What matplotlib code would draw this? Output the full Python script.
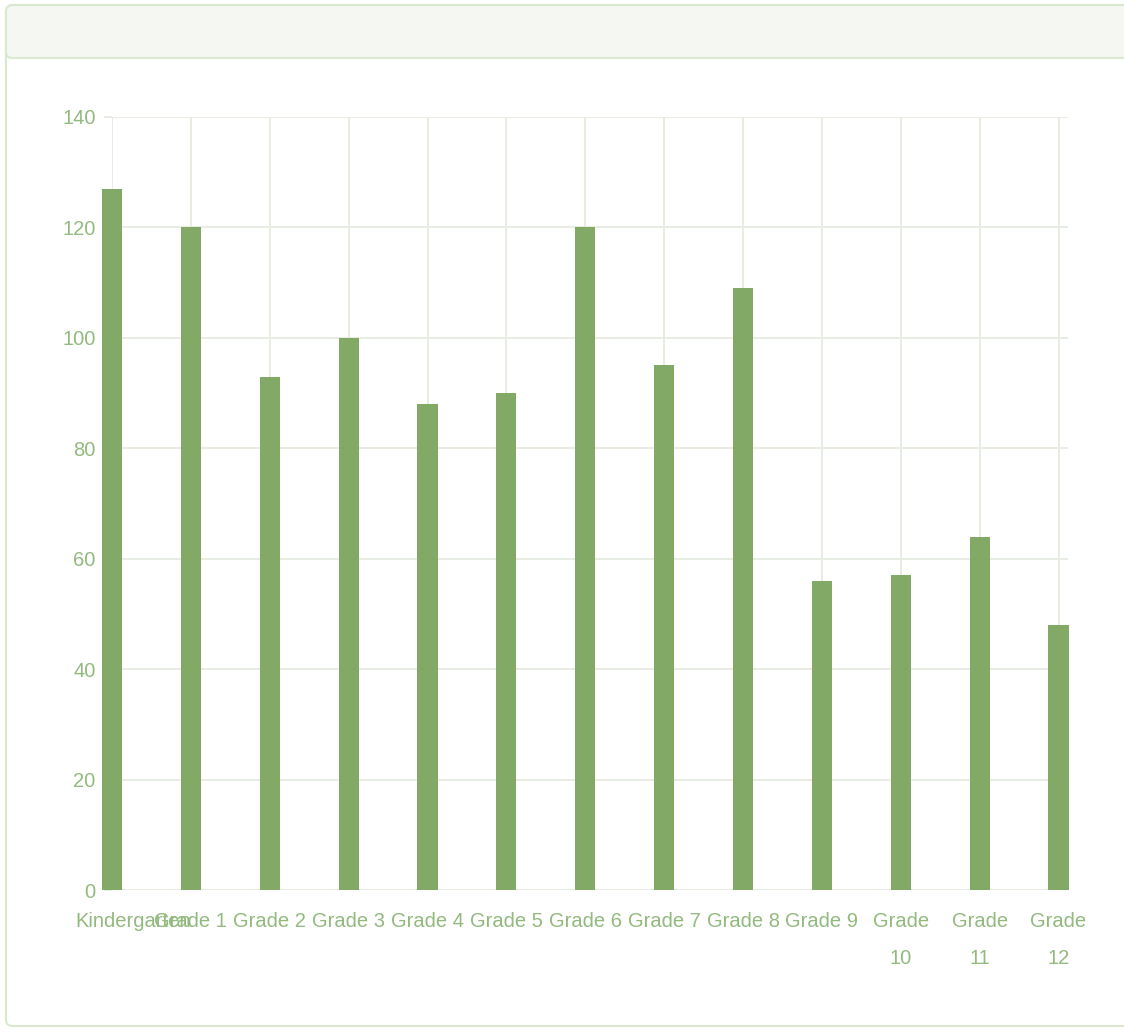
import matplotlib.pyplot as plt
from matplotlib.patches import FancyBboxPatch
from matplotlib.transforms import ScaledTranslation

grades = ['Kindergarten', 'Grade 1', 'Grade 2', 'Grade 3', 'Grade 4', 'Grade 5',
          'Grade 6', 'Grade 7', 'Grade 8', 'Grade 9', 'Grade\n10', 'Grade\n11',
          'Grade\n12']
students = [127, 120, 93, 100, 88, 90, 120, 95, 109, 56, 57, 64, 48]
y_ticks = [0, 20, 40, 60, 80, 100, 120, 140]

bar_color = '#82aa66'
text_color = '#92ba7e'
grid_color = '#e5ece0'
border_color = '#d9e8cf'

W, H = 1124, 1032
fig = plt.figure(figsize=(W / 100, H / 100), dpi=100)
fig.patch.set_facecolor('white')

# panel frame with a light header strip, kept behind the axes
panel = FancyBboxPatch((6 / W, 6 / H), 1.2, (1026 - 6) / H,
                       boxstyle='round,pad=0,rounding_size=0.006',
                       transform=fig.transFigure, facecolor='white',
                       edgecolor=border_color, linewidth=1.5, zorder=-10)
fig.patches.append(panel)
header = FancyBboxPatch((6 / W, (H - 58) / H), 1.2, (58 - 5) / H,
                        boxstyle='round,pad=0,rounding_size=0.006',
                        transform=fig.transFigure, facecolor='#f5f7f2',
                        edgecolor=border_color, linewidth=1.5, zorder=-9)
fig.patches.append(header)

ax = fig.add_axes([112 / W, (H - 890) / H, (1068 - 112) / W, (890 - 117) / H])
ax.patch.set_alpha(0)
x = list(range(len(grades)))
ax.bar(x, students, width=0.255, color=bar_color, clip_on=False, zorder=3)

ax.set_xlim(0, 12.12)
ax.set_ylim(0, 140)
for s in ax.spines.values():
    s.set_visible(False)

ax.set_yticks(y_ticks)
ax.set_xticks(x)
ax.set_xticklabels(grades)
ax.grid(True, color=grid_color, linewidth=1.3, zorder=0)
ax.set_axisbelow(True)
ax.tick_params(axis='y', length=5.8, width=1.3, color=grid_color,
               labelcolor=text_color, labelsize=14.5, pad=6)
ax.tick_params(axis='x', length=0, labelcolor=text_color, labelsize=14.5, pad=16)
for lbl in ax.get_xticklabels():
    lbl.set_fontfamily('Liberation Sans')
    lbl.set_linespacing(2.2)
    lbl.set_verticalalignment('top')
for lbl in ax.get_yticklabels():
    lbl.set_fontfamily('Liberation Sans')

# first label is nudged right so it stays inside the panel
first = ax.get_xticklabels()[0]
first.set_transform(first.get_transform()
                    + ScaledTranslation(0.21, 0, fig.dpi_scale_trans))

fig.savefig('out.png', dpi=100, facecolor='white')
